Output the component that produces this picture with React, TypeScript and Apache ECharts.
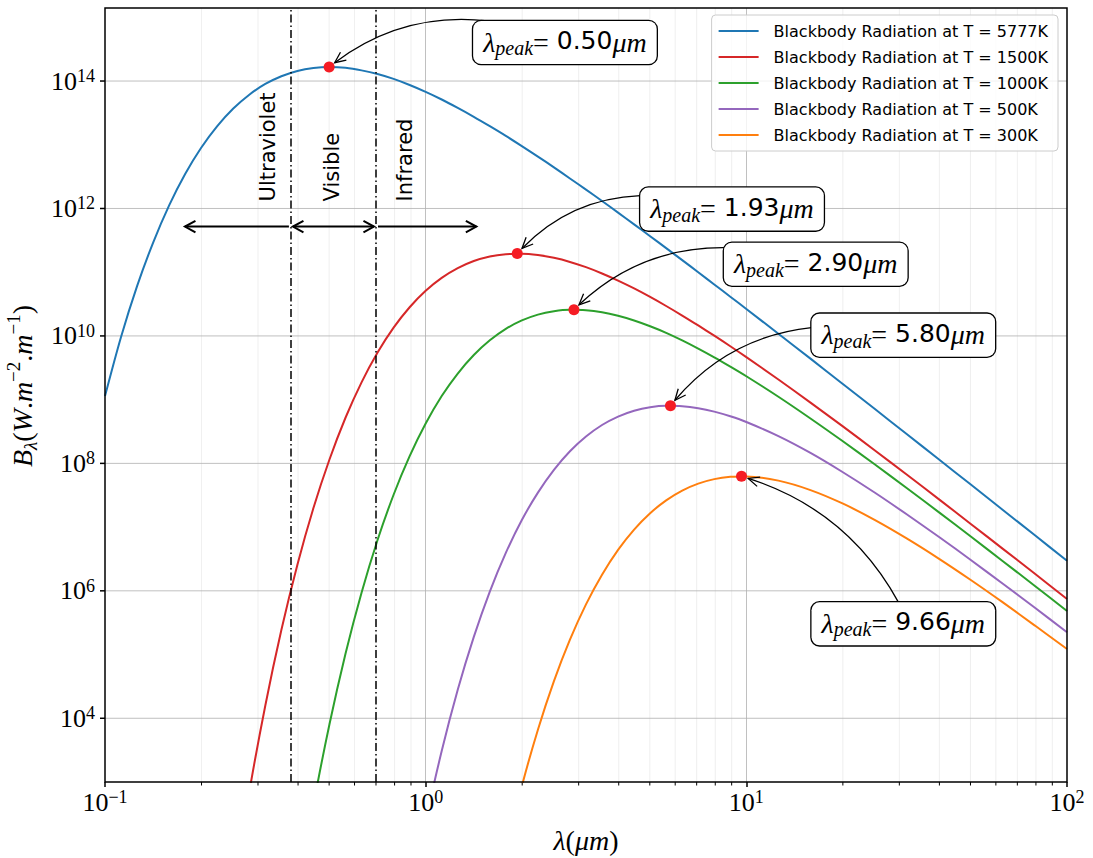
import React, { useEffect, useRef } from 'react';
import * as echarts from 'echarts';

const SERIF = '"Liberation Serif", "DejaVu Serif", serif';
const SANS = '"DejaVu Sans", "Noto Sans", sans-serif';

// Wavelength grid in µm: 0.05-decade steps up to 10 µm, 0.1-decade steps beyond.
const WAVELENGTH_UM = [
  0.1, 0.1122, 0.1259, 0.1413, 0.1585, 0.1778, 0.1995, 0.2239, 0.2512, 0.2818,
  0.3162, 0.3548, 0.3981, 0.4467, 0.5012, 0.5623, 0.631, 0.7079, 0.7943, 0.8913,
  1, 1.122, 1.259, 1.413, 1.585, 1.778, 1.995, 2.239, 2.512, 2.818,
  3.162, 3.548, 3.981, 4.467, 5.012, 5.623, 6.31, 7.079, 7.943, 8.913,
  10, 12.59, 15.85, 19.95, 25.12, 31.62, 39.81, 50.12, 63.1, 79.43, 100,
];

const none = (n: number) => Array(n).fill(null);

// Spectral radiance B_λ (W·m⁻²·m⁻¹) on the grid above; null where far below the plot.
const B_5777K = [
  1.14e9, 9.64e9, 6.05e10, 2.92e11, 1.12e12, 3.48e12, 8.97e12, 1.96e13, 3.7e13, 6.11e13,
  9.0e13, 1.19e14, 1.44e14, 1.6e14, 1.66e14, 1.61e14, 1.47e14, 1.29e14, 1.08e14, 8.67e13,
  6.76e13, 5.13e13, 3.79e13, 2.75e13, 1.96e13, 1.38e13, 9.53e12, 6.52e12, 4.42e12, 2.96e12,
  1.98e12, 1.31e12, 8.61e11, 5.64e11, 3.67e11, 2.39e11, 1.55e11, 9.98e10, 6.43e10, 4.13e10,
  2.65e10, 1.08e10, 4.4e9, 1.78e9, 7.18e8, 2.89e8, 1.16e8, 4.65e7, 1.86e7, 7.43e6, 2.96e6,
];
const B_1500K = [
  ...none(8), 19.5, 698,
  1.59e4, 2.42e5, 2.57e6, 1.99e7, 1.15e8, 5.2e8, 1.87e9, 5.5e9, 1.35e10, 2.82e10,
  5.11e10, 8.15e10, 1.16e11, 1.5e11, 1.77e11, 1.92e11, 1.95e11, 1.86e11, 1.68e11, 1.45e11,
  1.2e11, 9.55e10, 7.38e10, 5.56e10, 4.09e10, 2.95e10, 2.09e10, 1.46e10, 1.01e10, 6.89e9,
  4.65e9, 2.07e9, 9.0e8, 3.84e8, 1.61e8, 6.68e7, 2.75e7, 1.12e7, 4.56e6, 1.85e6, 7.43e5,
];
const B_1000K = [
  ...none(12), 15.1, 432, 8.05e3, 1.03e5, 9.35e5, 6.27e6, 3.22e7, 1.3e8,
  4.22e8, 1.14e9, 2.57e9, 5.01e9, 8.53e9, 1.29e10, 1.75e10, 2.16e10, 2.44e10, 2.57e10,
  2.53e10, 2.35e10, 2.07e10, 1.75e10, 1.42e10, 1.12e10, 8.53e9, 6.34e9, 4.62e9, 3.3e9,
  2.33e9, 1.11e9, 5.06e8, 2.24e8, 9.68e7, 4.1e7, 1.72e7, 7.11e6, 2.92e6, 1.19e6, 4.83e5,
];
const B_500K = [
  ...none(19), 12.6,
  238, 3.06e3, 2.8e4, 1.89e5, 9.75e5, 3.94e6, 1.29e7, 3.48e7, 7.92e7, 1.55e8,
  2.64e8, 4.0e8, 5.43e8, 6.71e8, 7.62e8, 8.02e8, 7.91e8, 7.35e8, 6.49e8, 5.48e8,
  4.46e8, 2.68e8, 1.46e8, 7.33e7, 3.49e7, 1.59e7, 7.06e6, 3.05e6, 1.29e6, 5.42e5, 2.24e5,
];
const B_300K = [
  ...none(25), 81.5, 861, 6.61e3, 3.82e4, 1.71e5,
  6.12e5, 1.79e6, 4.39e6, 9.14e6, 1.65e7, 2.63e7, 3.74e7, 4.81e7, 5.66e7, 6.15e7,
  6.24e7, 5.36e7, 3.81e7, 2.35e7, 1.3e7, 6.65e6, 3.21e6, 1.48e6, 6.58e5, 2.85e5, 1.22e5,
];

const TEMPERATURES_K = [5777, 1500, 1000, 500, 300];
const RADIANCE = [B_5777K, B_1500K, B_1000K, B_500K, B_300K];
const COLORS = ['#1f77b4', '#d62728', '#2ca02c', '#9467bd', '#ff7f0e'];

// Wien peaks
const PEAK_WAVELENGTH_UM = [0.5, 1.93, 2.9, 5.8, 9.66];
const PEAK_RADIANCE = [1.66e14, 1.96e11, 2.58e10, 8.05e8, 6.26e7];

// Axis ranges and tick positions
const X_MIN = 0.1;
const X_MAX = 100;
const Y_MIN = 1e3;
const Y_MAX = 1.4e15;
const Y_MAJOR_TICKS = [1e4, 1e6, 1e8, 1e10, 1e12, 1e14];
const X_MINOR_TICKS = [
  0.2, 0.3, 0.4, 0.5, 0.6, 0.7, 0.8, 0.9,
  2, 3, 4, 5, 6, 7, 8, 9,
  20, 30, 40, 50, 60, 70, 80, 90,
];

// Spectral bands
const UV_EDGE_UM = 0.38;
const IR_EDGE_UM = 0.7;
const REGION_LABELS = [
  { text: 'Ultraviolet', x: 0.322 },
  { text: 'Visible', x: 0.51 },
  { text: 'Infrared', x: 0.862 },
];
const REGION_LABEL_Y = 1.29e12;
const REGION_ARROW_Y = 5.2e11;
const REGION_ARROWS = [
  { from: UV_EDGE_UM, to: 0.175, both: false },
  { from: UV_EDGE_UM, to: IR_EDGE_UM, both: true },
  { from: IR_EDGE_UM, to: 1.46, both: false },
];

// Annotation layout: box top-left offset from the peak marker (px),
// and the arrow start relative to the box's top-left corner (px).
const ANNOT_LAYOUT = [
  { box: [144, -46], start: [15, 0] },
  { box: [123, -66], start: [0, 8] },
  { box: [150, -67], start: [0, 5] },
  { box: [141, -92], start: [0, 14] },
  { box: [70, 126], start: [87, 0] },
];
const ARC_RAD = 0.2;

const MINUS = '\u2212';
const expText = (e: number) => (e < 0 ? MINUS + String(-e) : String(e));

function powerLabel(v: number, evenOnly: boolean) {
  const e = Math.log10(v);
  const r = Math.round(e);
  if (Math.abs(e - r) > 1e-6) return '';
  if (evenOnly && r % 2 !== 0) return '';
  return `{b|10}{s|${expText(r)}}`;
}

const tickRich = {
  b: { fontFamily: SERIF, fontSize: 26, lineHeight: 28, color: '#000' },
  s: { fontFamily: SERIF, fontSize: 18, lineHeight: 18, verticalAlign: 'top', color: '#000' },
};

const nameRich = {
  i: { fontFamily: SERIF, fontStyle: 'italic', fontSize: 28, lineHeight: 36, color: '#000' },
  r: { fontFamily: SERIF, fontSize: 28, lineHeight: 36, color: '#000' },
  sup: { fontFamily: SERIF, fontSize: 19, lineHeight: 19, verticalAlign: 'top', color: '#000' },
  sub: { fontFamily: SERIF, fontStyle: 'italic', fontSize: 19, lineHeight: 19, verticalAlign: 'bottom', color: '#000' },
};

type Pt = [number, number];

function arrowHead(tip: Pt, from: Pt, len: number, half: number): Pt[] {
  const ang = Math.atan2(tip[1] - from[1], tip[0] - from[0]);
  return [
    [tip[0] - len * Math.cos(ang - half), tip[1] - len * Math.sin(ang - half)],
    tip,
    [tip[0] - len * Math.cos(ang + half), tip[1] - len * Math.sin(ang + half)],
  ];
}

function arcControl(s: Pt, e: Pt, rad: number): Pt {
  const mx = (s[0] + e[0]) / 2;
  const my = (s[1] + e[1]) / 2;
  const dx = e[0] - s[0];
  const dy = e[1] - s[1];
  return [mx - rad * dy, my + rad * dx];
}

export default function App() {
  const ref = useRef<HTMLDivElement>(null);

  useEffect(() => {
    if (!ref.current) return;
    const chart = echarts.init(ref.current, null, { renderer: 'svg' });
    const names = TEMPERATURES_K.map((t) => `Blackbody Radiation at T = ${t}K`);

    const lineSeries = TEMPERATURES_K.map((_, i) => ({
      type: 'line',
      name: names[i],
      data: WAVELENGTH_UM.map((w, j) => [w, RADIANCE[i][j]]).filter((p) => p[1] != null),
      symbol: 'none',
      smooth: 0.3,
      clip: true,
      z: 3,
      lineStyle: { color: COLORS[i], width: 2 },
      itemStyle: { color: COLORS[i] },
    }));

    const option: any = {
      animation: false,
      grid: { left: 105, right: 26, top: 8, bottom: 76, show: false, containLabel: false, outerBoundsMode: 'none' },
      legend: {
        data: names,
        orient: 'vertical',
        right: 35,
        top: 15,
        selectedMode: false,
        backgroundColor: 'rgba(255,255,255,0.8)',
        borderColor: '#cccccc',
        borderWidth: 1,
        borderRadius: 4,
        padding: [8, 10, 8, 6],
        itemWidth: 40,
        itemHeight: 16,
        itemGap: 10,
        itemStyle: { opacity: 0 },
        textStyle: { fontFamily: SANS, fontSize: 16, color: '#000', lineHeight: 16, padding: [0, 0, 0, 10] },
      },
      xAxis: {
        type: 'log',
        logBase: 10,
        min: X_MIN,
        max: X_MAX,
        interval: 1,
        name: '{i|λ}{r|(}{i|μm}{r|)}',
        nameLocation: 'middle',
        nameGap: 40,
        nameTextStyle: { rich: nameRich },
        axisLine: { show: false },
        axisTick: { show: true, length: 5, lineStyle: { color: '#000', width: 1.5 } },
        splitLine: { show: true, showMinLine: false, showMaxLine: false, lineStyle: { color: '#b0b0b0', width: 0.8 } },
        axisLabel: { margin: 6, formatter: (v: number) => powerLabel(v, false), rich: tickRich },
      },
      yAxis: {
        type: 'log',
        logBase: 10,
        min: Y_MIN,
        max: Y_MAX,
        interval: 1,
        name: '{i|B}{sub|λ}{r|(}{i|W}{r|.}{i|m}{sup|' + MINUS + '2}{r|.}{i|m}{sup|' + MINUS + '1}{r|)}',
        nameLocation: 'middle',
        nameRotate: 90,
        nameGap: 62,
        nameTextStyle: { rich: nameRich, padding: [0, 0, 0, 18] },
        axisLine: { show: false },
        axisTick: { show: false },
        splitLine: { show: false },
        axisLabel: { margin: 10, formatter: (v: number) => powerLabel(v, true), rich: tickRich },
      },
      series: [
        {
          type: 'custom',
          name: 'minor-x',
          silent: true,
          z: 1,
          data: X_MINOR_TICKS.map((v) => [v, Y_MIN]),
          renderItem: (params: any, api: any) => {
            const cs = params.coordSys;
            const x = api.coord([api.value(0), Y_MIN])[0];
            const bottom = cs.y + cs.height;
            return {
              type: 'group',
              children: [
                { type: 'line', shape: { x1: x, y1: cs.y, x2: x, y2: bottom }, style: { stroke: '#ebebeb', lineWidth: 0.8 } },
                { type: 'line', shape: { x1: x, y1: bottom, x2: x, y2: bottom + 3.5 }, style: { stroke: '#000', lineWidth: 1 } },
              ],
            };
          },
        },
        {
          type: 'custom',
          name: 'major-y',
          silent: true,
          z: 1,
          data: Y_MAJOR_TICKS.map((v) => [X_MIN, v]),
          renderItem: (params: any, api: any) => {
            const cs = params.coordSys;
            const y = api.coord([X_MIN, api.value(1)])[1];
            return {
              type: 'group',
              children: [
                { type: 'line', shape: { x1: cs.x, y1: y, x2: cs.x + cs.width, y2: y }, style: { stroke: '#b0b0b0', lineWidth: 0.8 } },
                { type: 'line', shape: { x1: cs.x - 5, y1: y, x2: cs.x, y2: y }, style: { stroke: '#000', lineWidth: 1.5 } },
              ],
            };
          },
        },
        ...lineSeries,
        {
          type: 'scatter',
          name: 'peaks',
          silent: true,
          z: 6,
          symbolSize: 11,
          itemStyle: { color: '#f51c24', opacity: 1 },
          data: PEAK_WAVELENGTH_UM.map((w, i) => [w, PEAK_RADIANCE[i]]),
          markLine: {
            silent: true,
            symbol: ['none', 'none'],
            label: { show: false },
            lineStyle: { color: '#000', width: 1.5, type: [8, 3, 1.5, 3] },
            data: [{ xAxis: UV_EDGE_UM }, { xAxis: IR_EDGE_UM }],
          },
        },
      ],
    };

    chart.setOption(option);

    const toPx = (x: number, y: number): Pt => chart.convertToPixel({ gridIndex: 0 }, [x, y]) as Pt;
    const g: any[] = [];

    // plot frame
    const [fx0, fy0] = toPx(X_MIN, Y_MAX);
    const [fx1, fy1] = toPx(X_MAX, Y_MIN);
    g.push({
      type: 'rect', silent: true, z: 40,
      shape: { x: fx0, y: fy0, width: fx1 - fx0, height: fy1 - fy0 },
      style: { fill: 'none', stroke: '#000', lineWidth: 1.5 },
    });

    // band names
    REGION_LABELS.forEach((r) => {
      const [x, y] = toPx(r.x, REGION_LABEL_Y);
      g.push({
        type: 'text', x, y, rotation: Math.PI / 2, silent: true, z: 30,
        style: { text: r.text, fontFamily: SANS, fontSize: 21, fill: '#000', align: 'left', verticalAlign: 'middle' },
      });
    });

    // band arrows
    REGION_ARROWS.forEach((a) => {
      const p0 = toPx(a.from, REGION_ARROW_Y);
      const p1 = toPx(a.to, REGION_ARROW_Y);
      const dir = Math.sign(p1[0] - p0[0]);
      const s: Pt = [p0[0] + 2 * dir, p0[1]];
      const e: Pt = [p1[0] - 2 * dir, p1[1]];
      g.push({ type: 'line', silent: true, z: 30, shape: { x1: s[0], y1: s[1], x2: e[0], y2: e[1] }, style: { stroke: '#000', lineWidth: 2 } });
      g.push({ type: 'polyline', silent: true, z: 30, shape: { points: arrowHead(e, s, 12, 0.5) }, style: { stroke: '#000', lineWidth: 2, fill: 'none' } });
      if (a.both) {
        g.push({ type: 'polyline', silent: true, z: 30, shape: { points: arrowHead(s, e, 12, 0.5) }, style: { stroke: '#000', lineWidth: 2, fill: 'none' } });
      }
    });

    // peak annotations
    PEAK_WAVELENGTH_UM.forEach((w, i) => {
      const p = toPx(w, PEAK_RADIANCE[i]);
      const lay = ANNOT_LAYOUT[i];
      const bx = p[0] + lay.box[0];
      const by = p[1] + lay.box[1];
      const s: Pt = [bx + lay.start[0], by + lay.start[1]];
      let c = arcControl(s, p, ARC_RAD);
      const len = Math.hypot(p[0] - c[0], p[1] - c[1]);
      const e: Pt = [p[0] - ((p[0] - c[0]) / len) * 7, p[1] - ((p[1] - c[1]) / len) * 7];
      c = arcControl(s, e, ARC_RAD);
      g.push({
        type: 'bezierCurve', silent: true, z: 31,
        shape: { x1: s[0], y1: s[1], x2: e[0], y2: e[1], cpx1: c[0], cpy1: c[1] },
        style: { stroke: '#000', lineWidth: 1.3, fill: 'none' },
      });
      g.push({
        type: 'polyline', silent: true, z: 31,
        shape: { points: arrowHead(e, c, 12, 0.42) },
        style: { stroke: '#000', lineWidth: 1.3, fill: 'none' },
      });
      g.push({
        type: 'text', x: bx, y: by, silent: true, z: 32,
        style: {
          text: `{l|λ}{s|peak}{e|=}{n| ${w.toFixed(2)}}{u|μm}`,
          align: 'left',
          verticalAlign: 'top',
          backgroundColor: '#ffffff',
          borderColor: '#000',
          borderWidth: 1.3,
          borderRadius: 8,
          padding: [7, 10, 6, 10],
          rich: {
            l: { fontFamily: SERIF, fontStyle: 'italic', fontSize: 28, lineHeight: 30, verticalAlign: 'top', fill: '#000' },
            s: { fontFamily: SERIF, fontStyle: 'italic', fontSize: 20, lineHeight: 22, padding: [12, 0, 0, 0], verticalAlign: 'bottom', fill: '#000' },
            e: { fontFamily: SERIF, fontSize: 28, lineHeight: 30, verticalAlign: 'top', fill: '#000' },
            n: { fontFamily: SANS, fontSize: 25, lineHeight: 30, verticalAlign: 'top', fill: '#000' },
            u: { fontFamily: SERIF, fontStyle: 'italic', fontSize: 28, lineHeight: 30, verticalAlign: 'top', fill: '#000' },
          },
        },
      });
    });

    chart.setOption({ graphic: g });

    return () => chart.dispose();
  }, []);

  return <div ref={ref} style={{ position: 'absolute', left: 0, top: 0, width: 1093, height: 858 }} />;
}
